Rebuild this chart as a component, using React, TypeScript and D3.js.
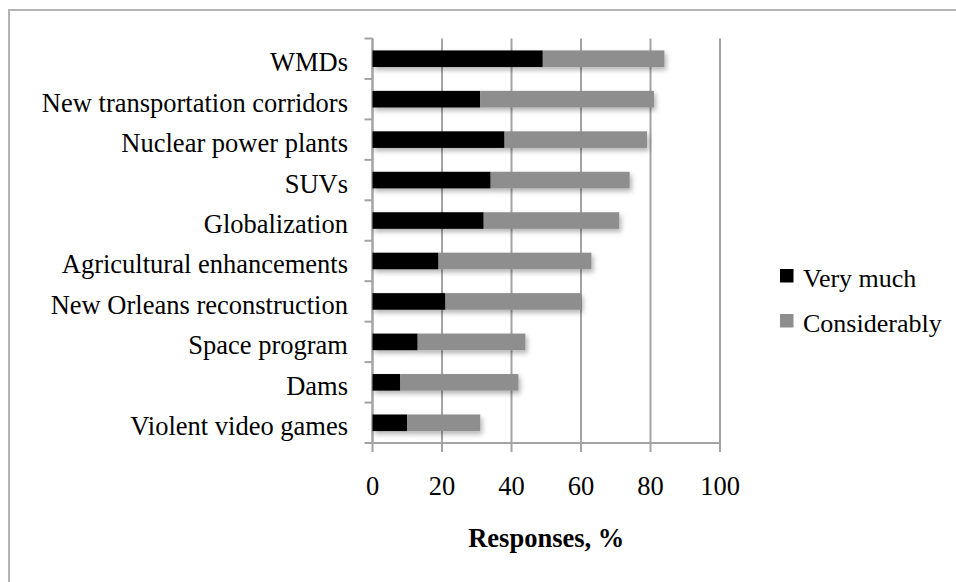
import React from "react";
import * as d3 from "d3";

const categories = [
  "WMDs",
  "New transportation corridors",
  "Nuclear power plants",
  "SUVs",
  "Globalization",
  "Agricultural enhancements",
  "New Orleans reconstruction",
  "Space program",
  "Dams",
  "Violent video games",
];
const veryMuch = [49, 31, 38, 34, 32, 19, 21, 13, 8, 10];
const considerably = [35, 50, 41, 40, 39, 44, 39, 31, 34, 21];
const seriesNames = ["Very much", "Considerably"];
const seriesColors = ["#000000", "#8e8e8e"];
const xTicks = [0, 20, 40, 60, 80, 100];
const axisTitle = "Responses, %";

const W = 956;
const H = 582;
const left = 372.5;
const right = 720;
const top = 38.5;
const bottom = 443;
const font = "'Liberation Serif', 'Times New Roman', serif";
const gridColor = "#a3a3a3";

export default function App() {
  const x = d3.scaleLinear().domain([0, 100]).range([left, right]);
  const y = d3
    .scaleBand<string>()
    .domain(categories)
    .range([top, bottom])
    .paddingInner(0.59)
    .paddingOuter(0.295);
  const step = y.step();
  const fs = 26.5;
  const fsLegend = 26;

  return (
    <svg
      width={W}
      height={H}
      style={{ position: "absolute", left: 0, top: 0, display: "block" }}
    >
      <defs>
        <filter id="shadow" x="-10%" y="-50%" width="130%" height="250%">
          <feDropShadow dx="2" dy="3" stdDeviation="2.5" floodColor="#000" floodOpacity="0.3" />
        </filter>
      </defs>
      <rect x={0} y={0} width={W} height={H} fill="#fff" />
      <rect x={9} y={10} width={970} height={600} fill="#fff" stroke="#b3b3b3" strokeWidth={2} />

      {/* gridlines */}
      {xTicks.map((t) => (
        <line key={"g" + t} x1={x(t)} x2={x(t)} y1={top} y2={bottom + 9} stroke={gridColor} strokeWidth={2} />
      ))}
      {/* axes */}
      <line x1={left} x2={left} y1={top} y2={bottom} stroke={gridColor} strokeWidth={2} />
      <line x1={left} x2={right} y1={bottom} y2={bottom} stroke={gridColor} strokeWidth={2} />
      {d3.range(categories.length + 1).map((i) => (
        <line
          key={"yt" + i}
          x1={left - 8}
          x2={left}
          y1={top + i * step}
          y2={top + i * step}
          stroke={gridColor}
          strokeWidth={2}
        />
      ))}

      {/* bars */}
      {categories.map((c, i) => {
        const y0 = y(c)!;
        const b = y.bandwidth();
        return (
          <g key={c} filter="url(#shadow)">
            <rect x={x(0)} y={y0} width={x(veryMuch[i]) - x(0)} height={b} fill={seriesColors[0]} />
            <rect
              x={x(veryMuch[i])}
              y={y0}
              width={x(veryMuch[i] + considerably[i]) - x(veryMuch[i])}
              height={b}
              fill={seriesColors[1]}
            />
          </g>
        );
      })}

      {/* category labels */}
      {categories.map((c) => (
        <text
          key={"l" + c}
          x={348}
          y={y(c)! + y.bandwidth() / 2 + 12.5}
          textAnchor="end"
          fontFamily={font}
          fontSize={fs}
          fill="#000"
        >
          {c}
        </text>
      ))}

      {/* x tick labels */}
      {xTicks.map((t) => (
        <text key={"xl" + t} x={x(t)} y={495} textAnchor="middle" fontFamily={font} fontSize={fs} fill="#000">
          {t}
        </text>
      ))}
      <text
        x={(left + right) / 2}
        y={547}
        textAnchor="middle"
        fontFamily={font}
        fontSize={fs}
        fontWeight="bold"
        fill="#000"
      >
        {axisTitle}
      </text>

      {/* legend */}
      {seriesNames.map((s, i) => (
        <g key={s}>
          <rect x={780} y={269 + i * 45} width={13.5} height={13.5} fill={seriesColors[i]} />
          <text x={803} y={286.5 + i * 45} fontFamily={font} fontSize={fsLegend} fill="#000">
            {s}
          </text>
        </g>
      ))}
    </svg>
  );
}
